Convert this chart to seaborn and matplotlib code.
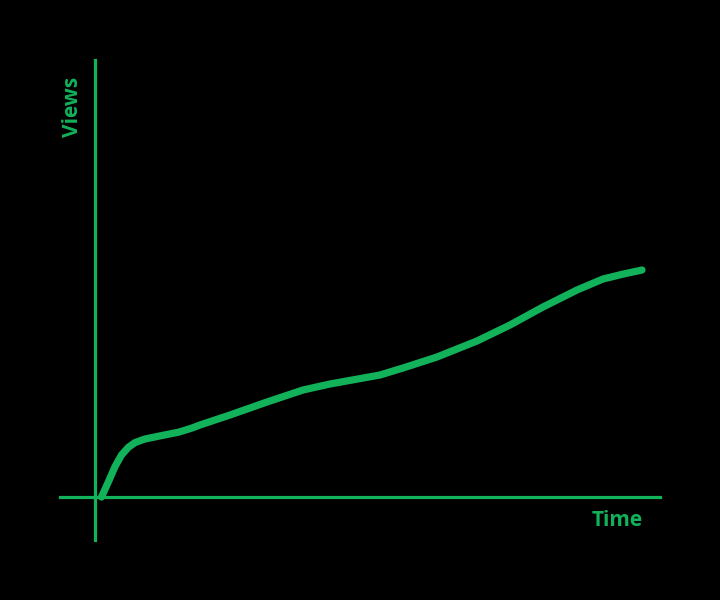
import numpy as np
import pandas as pd
import matplotlib.pyplot as plt
import seaborn as sns

sns.set_style("dark")
plt.rcParams['font.family'] = ['Open Sans', 'DejaVu Sans']

GREEN = "#12b25a"

# data (arbitrary units)
time = [0.13, 0.27, 0.40, 0.53, 0.67, 0.80, 1.00, 1.33, 1.67, 1.93,
        2.10, 2.70, 3.44, 4.16, 4.70, 5.70, 6.16, 6.84, 7.64, 8.30,
        8.96, 9.64, 10.16, 10.57, 10.94]
views = [0.0, 0.77, 1.52, 2.1, 2.49, 2.72, 2.9, 3.07, 3.24, 3.44,
         3.6, 4.1, 4.75, 5.35, 5.65, 6.1, 6.45, 7.0, 7.8, 8.6,
         9.5, 10.35, 10.9, 11.15, 11.35]

df = pd.DataFrame({"Time": time, "Views": views})

fig = plt.figure(figsize=(7.2, 6), dpi=100, facecolor="black")
ax = fig.add_axes([60 / 720, 0.1, 600 / 720, 0.8])
ax.set_facecolor("black")

sns.lineplot(data=df, x="Time", y="Views", ax=ax, color=GREEN,
             linewidth=5.2, solid_capstyle="round", solid_joinstyle="round")

ax.set_xlim(-0.7, 11.3)
ax.set_ylim(-2.15, 21.85)

# axis lines crossing at the origin
for side in ["top", "right"]:
    ax.spines[side].set_visible(False)
ax.spines["left"].set_position(("data", 0))
ax.spines["bottom"].set_position(("data", 0))
for side in ["left", "bottom"]:
    ax.spines[side].set_color(GREEN)
    ax.spines[side].set_linewidth(2.3)
ax.set_xticks([])
ax.set_yticks([])
ax.grid(False)

ax.set_xlabel("Time", color=GREEN, fontsize=15, fontweight="bold")
ax.set_ylabel("Views", color=GREEN, fontsize=15, fontweight="bold")
ax.xaxis.set_label_coords(0.928, 0.04)
ax.yaxis.set_label_coords(0.02, 0.902)
ax.xaxis.label.set_va("center")
ax.yaxis.label.set_va("center")

fig.savefig("out.png", dpi=100, facecolor="black")
